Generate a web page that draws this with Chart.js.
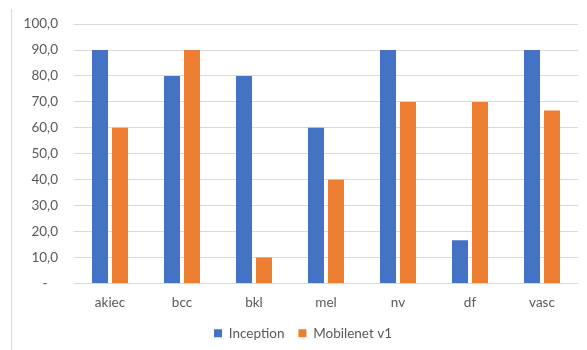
<!DOCTYPE html>
<html>
<head>
<meta charset="utf-8">
<script src="https://cdn.jsdelivr.net/npm/chart.js@4/dist/chart.umd.min.js"></script>
<style>
  html, body { margin: 0; padding: 0; background: #fff; }
  #wrap { position: relative; width: 587px; height: 350px; }
  canvas { display: block; }
</style>
</head>
<body>
<div id="wrap"><canvas id="c" width="587" height="350"></canvas></div>
<script>
const categories = ['akiec', 'bcc', 'bkl', 'mel', 'nv', 'df', 'vasc'];
const inception = [90, 80, 80, 60, 90, 16.7, 90];
const mobilenetV1 = [60, 90, 10, 40, 70, 70, 66.7];
const seriesNames = ['Inception', 'Mobilenet v1'];

const FONT = 'Lato, "Liberation Sans", sans-serif';
const TEXT = '#595959';
const GRID = '#d9d9d9';

// thin frame line on the left side of the chart panel
const framePlugin = {
  id: 'frame',
  beforeDraw(chart) {
    const ctx = chart.ctx;
    ctx.save();
    ctx.strokeStyle = GRID;
    ctx.lineWidth = 1;
    ctx.beginPath();
    ctx.moveTo(11.5, 9);
    ctx.lineTo(11.5, 350);
    ctx.stroke();
    ctx.restore();
  }
};

// nudge the legend slightly right of the canvas centre
const legendShift = {
  id: 'legendShift',
  afterLayout(chart) {
    const lg = chart.legend;
    if (!lg) return;
    const dx = 14;
    lg.left += dx;
    lg.right += dx;
  }
};

new Chart(document.getElementById('c'), {
  type: 'bar',
  data: {
    labels: categories,
    datasets: [
      { label: seriesNames[0], data: inception, backgroundColor: '#4472C4' },
      { label: seriesNames[1], data: mobilenetV1, backgroundColor: '#ED7D31' }
    ]
  },
  options: {
    responsive: false,
    animation: false,
    devicePixelRatio: 1,
    categoryPercentage: 0.556,
    barPercentage: 0.8,
    layout: { padding: { top: 21, right: 9, left: 0, bottom: 0 } },
    plugins: {
      tooltip: { enabled: false },
      legend: {
        position: 'bottom',
        labels: {
          boxWidth: 8,
          boxHeight: 8,
          color: TEXT,
          padding: 14,
          font: { family: FONT, size: 13.5 }
        }
      }
    },
    scales: {
      x: {
        grid: { display: false, drawTicks: false },
        border: { display: false },
        ticks: { color: TEXT, font: { family: FONT, size: 13.5 }, padding: 11 },
        afterFit(scale) { scale.height = 29; }
      },
      y: {
        min: 0,
        max: 100,
        ticks: {
          stepSize: 10,
          color: TEXT,
          padding: 16,
          font: { family: FONT, size: 13.5 },
          callback: v => v === 0 ? '-   ' : v.toFixed(1).replace('.', ',')
        },
        grid: { color: GRID, drawTicks: false },
        border: { display: false },
        afterFit(scale) { scale.width = 74; }
      }
    }
  },
  plugins: [framePlugin, legendShift]
});
</script>
</body>
</html>
